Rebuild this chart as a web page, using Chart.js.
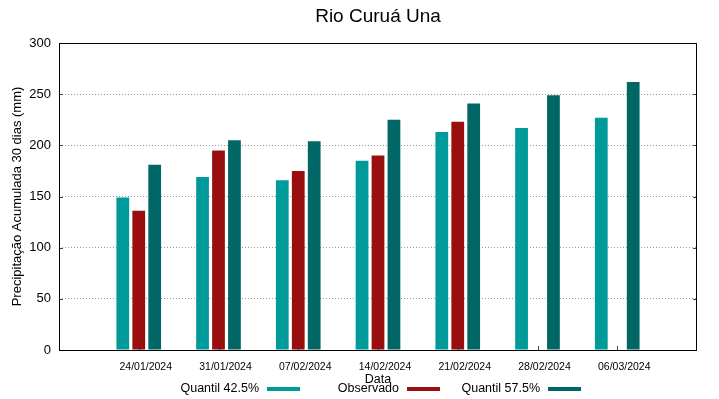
<!DOCTYPE html>
<html>
<head>
<meta charset="utf-8">
<script src="https://cdn.jsdelivr.net/npm/chart.js@4.4.0/dist/chart.umd.min.js"></script>
<style>
    html, body { margin: 0; padding: 0; background: #fff; }
    #wrap { width: 719px; height: 399px; }
</style>
</head>
<body>
<div id="wrap"><canvas id="chart" width="719" height="399"></canvas></div>
<script>
// Chart data
const dates = ['24/01/2024', '31/01/2024', '07/02/2024', '14/02/2024', '21/02/2024', '28/02/2024', '06/03/2024'];
const quantil425 = [149, 169, 166, 185, 213, 217, 227];
const observado = [136, 195, 175, 190, 223, null, null];
const quantil575 = [181, 205, 204, 225, 241, 249, 262];
const yTicks = [0, 50, 100, 150, 200, 250, 300];

const FONT = "'Liberation Sans', Arial, sans-serif";

function toPoints(values) {
    return values.map((v, i) => ({ x: i, y: v }));
}

// Frame, inward ticks, title, legend drawn the gnuplot way
const gnuplotDecor = {
    id: 'gnuplotDecor',
    beforeDatasetsDraw(chart) {
        const ctx = chart.ctx;
        const area = chart.chartArea;
        const xs = chart.scales.x;
        const ys = chart.scales.y;
        ctx.save();
        ctx.strokeStyle = '#444';
        ctx.lineWidth = 1;
        ctx.beginPath();
        yTicks.forEach(v => {
            const y = Math.round(ys.getPixelForValue(v)) + 0.5;
            ctx.moveTo(area.left, y);
            ctx.lineTo(area.left + 4, y);
            ctx.moveTo(area.right, y);
            ctx.lineTo(area.right - 4, y);
        });
        dates.forEach((d, i) => {
            const x = Math.round(xs.getPixelForValue(i)) + 0.5;
            ctx.moveTo(x, area.bottom);
            ctx.lineTo(x, area.bottom - 4);
        });
        ctx.stroke();
        ctx.restore();
    },
    afterDraw(chart) {
        const ctx = chart.ctx;
        const area = chart.chartArea;
        const midX = (area.left + area.right) / 2;
        ctx.save();
        ctx.strokeStyle = '#000';
        ctx.lineWidth = 1;
        ctx.strokeRect(area.left + 0.5, area.top + 0.5, area.right - area.left - 1, area.bottom - area.top);

        ctx.fillStyle = '#000';
        ctx.textAlign = 'center';
        ctx.textBaseline = 'alphabetic';
        ctx.font = '19px ' + FONT;
        ctx.fillText('Rio Curuá Una', midX, 22);

        ctx.font = '12.5px ' + FONT;
        ctx.fillText('Data', midX, 382.5);

        // y axis title
        ctx.save();
        ctx.translate(21, (area.top + area.bottom) / 2);
        ctx.rotate(-Math.PI / 2);
        ctx.font = '13px ' + FONT;
        ctx.fillText('Precipitação Acumulada 30 dias (mm)', 0, 0);
        ctx.restore();

        // legend: text first, then sample
        const textRight = [259, 399, 540];
        ctx.textAlign = 'right';
        ctx.font = '12.5px ' + FONT;
        chart.data.datasets.forEach((ds, i) => {
            ctx.fillStyle = '#000';
            ctx.fillText(ds.label, textRight[i], 392);
            ctx.fillStyle = ds.backgroundColor;
            ctx.fillRect(textRight[i] + 8, 387, 33, 4);
        });
        ctx.restore();
    }
};

const ctx = document.getElementById('chart').getContext('2d');
new Chart(ctx, {
    type: 'bar',
    data: {
        datasets: [{
            label: 'Quantil 42.5%',
            data: toPoints(quantil425),
            backgroundColor: '#009a9a'
        }, {
            label: 'Observado',
            data: toPoints(observado),
            backgroundColor: '#990e0e'
        }, {
            label: 'Quantil 57.5%',
            data: toPoints(quantil575),
            backgroundColor: '#006666'
        }]
    },
    options: {
        responsive: false,
        animation: false,
        devicePixelRatio: 1,
        categoryPercentage: 0.6,
        barPercentage: 0.8,
        layout: {
            padding: { top: 43, right: 22, left: 0, bottom: 0 }
        },
        plugins: {
            legend: { display: false },
            title: { display: false },
            tooltip: { enabled: false }
        },
        scales: {
            x: {
                type: 'linear',
                min: -1,
                max: 7,
                offset: false,
                grid: { display: false, offset: false, drawTicks: false },
                border: { display: false },
                ticks: {
                    stepSize: 1,
                    autoSkip: false,
                    maxRotation: 0,
                    padding: 11,
                    labelOffset: 7,
                    color: '#000',
                    font: { family: FONT, size: 10.5 },
                    callback: v => dates[v] || ''
                },
                afterFit(scale) {
                    scale.height = 49;
                }
            },
            y: {
                min: 0,
                max: 300,
                border: { display: false, dash: [1, 2] },
                grid: {
                    drawTicks: false,
                    color: c => (c.tick.value === 0 || c.tick.value === 300) ? 'rgba(0,0,0,0)' : '#9a9a9a'
                },
                ticks: {
                    stepSize: 50,
                    padding: 8,
                    color: '#000',
                    font: { family: FONT, size: 13 }
                },
                afterFit(scale) {
                    scale.width = 59;
                }
            }
        }
    },
    plugins: [gnuplotDecor]
});
</script>
</body>
</html>
